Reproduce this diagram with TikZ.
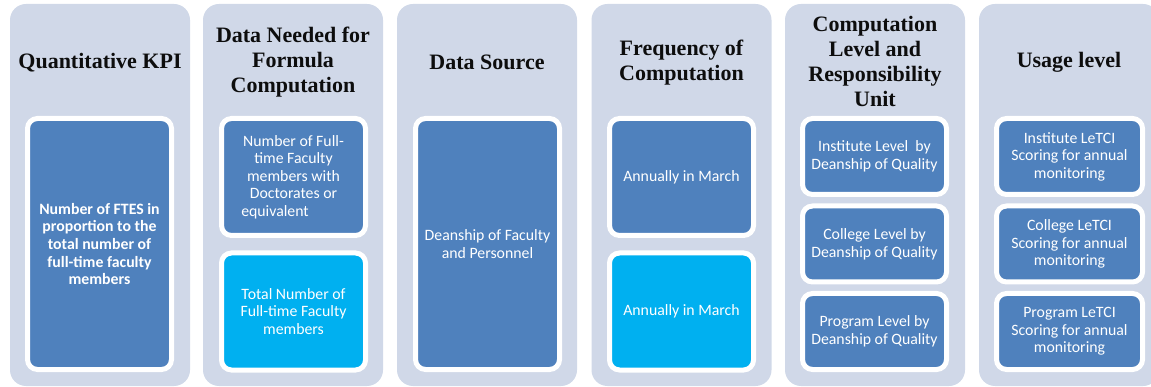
\documentclass[tikz,border=0pt]{standalone}
\usepackage{fontspec}
\setmainfont{Liberation Serif}
\newfontfamily\bodyfont{Carlito}
\definecolor{colbg}{HTML}{D0D8E8}
\definecolor{boxblue}{HTML}{4F81BD}
\definecolor{boxcyan}{HTML}{00B0F0}
\definecolor{headtext}{HTML}{0D0D0D}
\begin{document}
\begin{tikzpicture}[x=1pt,y=-1pt,
  column/.style={rectangle, fill=colbg, rounded corners=16pt, minimum width=180pt, minimum height=382pt, inner sep=0pt},
  heading/.style={align=center, font=\fontsize{22}{25}\selectfont\bfseries, text=headtext, inner sep=0pt},
  box/.style={rectangle, draw=white, line width=5pt, fill=boxblue, rounded corners=10pt, minimum width=144pt, align=center, text=white, inner sep=0pt, font=\bodyfont\fontsize{15.8}{17.6}\selectfont},
  cyanbox/.style={box, fill=boxcyan},
  full/.style={minimum height=251pt},
  half/.style={minimum height=117pt},
  third/.style={minimum height=76pt}]
\useasboundingbox (0,0) rectangle (1151,387);
\clip (0,0) rectangle (1151,387);
% columns
\node[column] (c1) at (100,195) {};
\node[column] (c2) at (293,195) {};
\node[column] (c3) at (487,195) {};
\node[column] (c4) at (681.5,195) {};
\node[column] (c5) at (875,195) {};
\node[column] (c6) at (1069,195) {};
% headings
\node[heading] (h1) at (100,62.5) {Quantitative KPI};
\node[heading] (h2) at (293,62.5) {Data Needed for\\Formula\\Computation};
\node[heading] (h3) at (487,62.5) {Data Source};
\node[heading] (h4) at (681.5,62.5) {Frequency of\\Computation};
\node[heading] (h5) at (875,61) {Computation\\Level and\\Responsibility\\Unit};
\node[heading] (h6) at (1069,62.5) {Usage level};
% column 1
\node[box, full, font=\bodyfont\bfseries\fontsize{15.8}{17.6}\selectfont] (k1) at (99.5,244) {Number of FTES in\\proportion to the\\total number of\\full-time faculty\\members};
% column 2
\node[box, half] (d1) at (293.5,177) {Number of Full-\\time Faculty\\members with\\Doctorates or\\equivalent\hspace*{37pt}};
\node[cyanbox, half] (d2) at (293.5,311.5) {Total Number of\\Full-time Faculty\\members};
% column 3
\node[box, full] (s1) at (487.5,244) {Deanship of Faculty\\and Personnel};
% column 4
\node[box, half] (f1) at (681.5,177) {Annually in March};
\node[cyanbox, half] (f2) at (681.5,311.5) {Annually in March};
% column 5
\node[box, third] (r1) at (874.5,156.5) {Institute Level\ \ by\\Deanship of Quality};
\node[box, third] (r2) at (874.5,244) {College Level by\\Deanship of Quality};
\node[box, third] (r3) at (874.5,331.5) {Program Level by\\Deanship of Quality};
% column 6
\node[box, third, minimum width=146pt] (u1) at (1069.5,156.5) {Institute LeTCI\\Scoring for annual\\monitoring};
\node[box, third, minimum width=146pt] (u2) at (1069.5,244) {College LeTCI\\Scoring for annual\\monitoring};
\node[box, third, minimum width=146pt] (u3) at (1069.5,331.5) {Program LeTCI\\Scoring for annual\\monitoring};
\end{tikzpicture}
\end{document}
